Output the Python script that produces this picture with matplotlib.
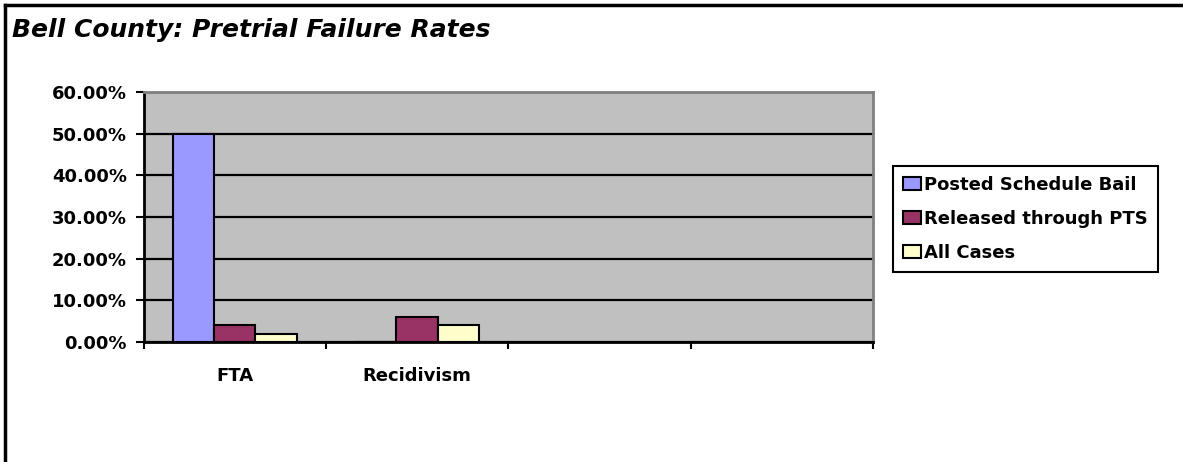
import numpy as np
import matplotlib.pyplot as plt
from matplotlib.lines import Line2D
from matplotlib.ticker import PercentFormatter

plt.rcParams['font.family'] = ['DejaVu Sans']
plt.rcParams['font.weight'] = 'bold'

# Failure rates by measure (fractions)
categories = ['FTA', 'Recidivism', '', '']
posted_bail = [0.50, 0.0]
released_pts = [0.04, 0.06]
all_cases = [0.02, 0.04]
series_names = ['Posted Schedule Bail', 'Released through PTS', 'All Cases']
colors = ['#9999FF', '#993366', '#FFFFCC']

fig = plt.figure(figsize=(11.83, 4.62), dpi=100)
ax = fig.add_axes([143.5 / 1183, 1 - 342 / 462, (873 - 143.5) / 1183, 250 / 462])
ax.set_facecolor('#C0C0C0')

bar_w = 0.226
x = np.arange(len(posted_bail)) + 0.5
for i, (vals, name, c) in enumerate(zip([posted_bail, released_pts, all_cases], series_names, colors)):
    ax.bar(x + (i - 1) * bar_w, vals, width=bar_w, color=c, edgecolor='black',
           linewidth=1.5, label=name, zorder=3)

ax.set_xlim(0, len(categories))
ax.set_ylim(0, 0.60)
ax.set_yticks(np.arange(0, 0.61, 0.10))
ax.yaxis.set_major_formatter(PercentFormatter(1.0, decimals=2))
ax.grid(axis='y', color='black', linewidth=1.6, zorder=1)

# slot boundaries get tick marks, category names sit at slot centres
ax.set_xticks(np.arange(len(categories) + 1))
ax.set_xticklabels([])
ax.set_xticks(np.arange(len(categories)) + 0.5, minor=True)
ax.set_xticklabels(categories, minor=True)
ax.tick_params(axis='x', which='major', length=5, width=1.5, direction='out')
ax.tick_params(axis='x', which='minor', length=0, pad=18, labelsize=13)
ax.tick_params(axis='y', length=6, width=1.5, direction='out', pad=6, labelsize=13)

ax.spines['left'].set_linewidth(2)
ax.spines['bottom'].set_linewidth(2)
for s in ['top', 'right']:
    ax.spines[s].set_color('#808080')
    ax.spines[s].set_linewidth(2)

fig.text(12 / 1183, 1 - 30 / 462, 'Bell County: Pretrial Failure Rates', fontsize=18,
         fontweight='bold', fontstyle='italic', va='center', ha='left')

leg = fig.legend(loc='upper left', bbox_to_anchor=(893 / 1183, 1 - 166 / 462),
                 fontsize=13, frameon=True, fancybox=False, framealpha=1,
                 handlelength=1.0, handleheight=0.67, handletextpad=0.17,
                 borderpad=0.55, labelspacing=0.88, borderaxespad=0)
leg.get_frame().set_edgecolor('black')
leg.get_frame().set_linewidth(1.5)

# outer chart border on the top and left
fig.add_artist(Line2D([4.5 / 1183, 4.5 / 1183], [0, 1 - 4.5 / 462], color='black', linewidth=2.5))
fig.add_artist(Line2D([4.5 / 1183, 1], [1 - 4.5 / 462, 1 - 4.5 / 462], color='black', linewidth=2.5))

fig.savefig('out.png', dpi=100)
